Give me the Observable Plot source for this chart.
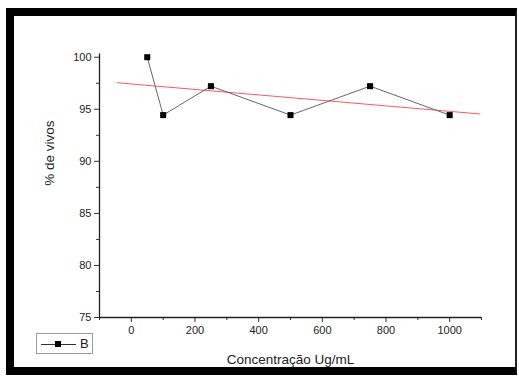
<!DOCTYPE html>
<html>
<head>
<meta charset="utf-8">
<script src="https://cdn.jsdelivr.net/npm/d3@7"></script>
<script src="https://cdn.jsdelivr.net/npm/@observablehq/plot@0.6"></script>
<style>
  html, body { margin: 0; padding: 0; background: #fff; width: 519px; height: 383px; overflow: hidden; }
  #chart { position: absolute; left: 0; top: 0; }
  #frame { position: absolute; left: 6px; top: 8px; width: 501px; height: 351px;
    border-left: 8px solid #000; border-top: 8px solid #000; border-bottom: 8px solid #000; border-right: 2px solid #222; pointer-events: none; }
  #legend { position: absolute; left: 36px; top: 333px; width: 55px; height: 19px; border: 1px solid #9a9a9a; background: #fff;
    font-family: "Liberation Sans", Arial, sans-serif; font-size: 13px; color: #222; }
  #legend .ln { position: absolute; left: 4px; top: 10px; width: 35px; border-top: 1px solid #333; }
  #legend .sq { position: absolute; left: 18px; top: 7px; width: 6px; height: 6px; background: #000; }
  #legend .tx { position: absolute; left: 43px; top: 2px; }
</style>
</head>
<body>
<div id="chart"></div>
<div id="frame"></div>
<div id="legend"><span class="ln"></span><span class="sq"></span><span class="tx">B</span></div>
<script>
// Data
const concentrations = [50, 100, 250, 500, 750, 1000];
const percentAlive = [100, 94.44, 97.22, 94.44, 97.22, 94.44];
const seriesName = "B";
// Linear fit line (red) endpoints
const fitX = [-45, 1095];
const fitY = [97.55, 94.55];
// Tick values
const xMajorTicks = [0, 200, 400, 600, 800, 1000];
const xMinorTicks = [-100, 100, 300, 500, 700, 900, 1100];
const yMajorTicks = [75, 80, 85, 90, 95, 100];
const yMinorTicks = [77.5, 82.5, 87.5, 92.5, 97.5];

const points = concentrations.map((c, i) => ({x: c, y: percentAlive[i], s: seriesName}));
const fit = fitX.map((x, i) => ({x, y: fitY[i]}));

const font = "Liberation Sans, Arial, sans-serif";
const chart = Plot.plot({
  width: 519,
  height: 383,
  marginLeft: 99,
  marginRight: 38,
  marginTop: 53.6,
  marginBottom: 66,
  style: {fontFamily: font, fontSize: "11px", color: "#222", background: "transparent"},
  x: {domain: [-100, 1100]},
  y: {domain: [75, 100.3]},
  marks: [
    Plot.axisX({ticks: xMinorTicks, tickSize: 3, text: null, label: null, stroke: "#333"}),
    Plot.axisX({ticks: xMajorTicks, tickSize: 5, tickPadding: 4, tickFormat: d3.format("d"), label: null, stroke: "#333", fontSize: 11, fill: "#222"}),
    Plot.axisY({ticks: yMinorTicks, tickSize: 3, text: null, label: null, stroke: "#333"}),
    Plot.axisY({ticks: yMajorTicks, tickSize: 5, tickPadding: 3, tickFormat: d3.format("d"), label: null, stroke: "#333", fontSize: 11, fill: "#222"}),
    Plot.ruleX([-100], {y1: 75, y2: 100.3, stroke: "#222", strokeWidth: 1.3}),
    Plot.ruleY([75], {x1: -100, x2: 1100, stroke: "#222", strokeWidth: 1.3}),
    Plot.text(["Concentração Ug/mL"], {frameAnchor: "bottom", dy: 46, fontSize: 13.5, fill: "#222"}),
    Plot.text(["% de vivos"], {frameAnchor: "left", dx: -50, rotate: -90, fontSize: 13.5, fill: "#222"}),
    Plot.line(fit, {x: "x", y: "y", stroke: "#ff5a5a", strokeWidth: 1}),
    Plot.line(points, {x: "x", y: "y", stroke: "#666", strokeWidth: 1}),
    Plot.dot(points, {x: "x", y: "y", symbol: "square", r: 3.4, fill: "#000", stroke: "none"})
  ]
});
document.getElementById("chart").appendChild(chart);
</script>
</body>
</html>
